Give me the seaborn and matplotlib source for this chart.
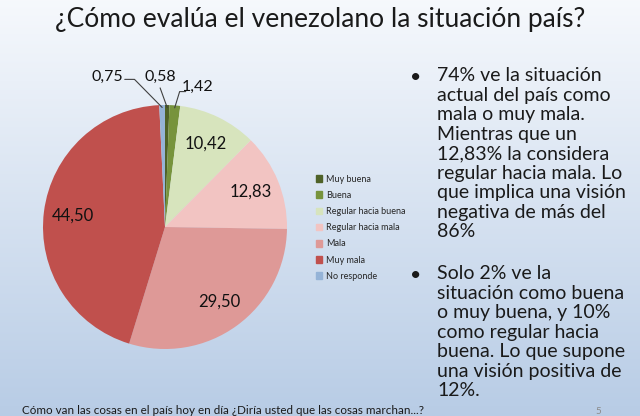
import numpy as np
import matplotlib
matplotlib.use("Agg")
import matplotlib.pyplot as plt
import seaborn as sns

categories = ["Muy buena", "Buena", "Regular hacia buena", "Regular hacia mala",
              "Mala", "Muy mala", "No responde"]
values = [0.58, 1.42, 10.42, 12.83, 29.50, 44.50, 0.75]
value_labels = ["0,58", "1,42", "10,42", "12,83", "29,50", "44,50", "0,75"]
colors_hex = ["#4f6228", "#77933c", "#d7e4bd", "#f2c4c2", "#de9997", "#c0504d", "#95b3d7"]

title = "¿Cómo evalúa el venezolano la situación país?"
bullet1 = ("74% ve la situación\nactual del país como\nmala o muy mala.\nMientras que un\n"
           "12,83% la considera\nregular hacia mala. Lo\nque implica una visión\n"
           "negativa de más del\n86%")
bullet2 = ("Solo 2% ve la\nsituación como buena\no muy buena, y 10%\ncomo regular hacia\n"
           "buena. Lo que supone\nuna visión positiva de\n12%.")
footer = "Cómo van las cosas en el país hoy en día ¿Diría usted que las cosas marchan...?"
page = "5"

sns.set_style("white")
plt.rcParams['font.family'] = ['Lato', 'DejaVu Sans']
palette = sns.color_palette(colors_hex)

W, H = 640, 416
fig = plt.figure(figsize=(6.4, 4.16), dpi=100)

# background gradient
bg = fig.add_axes([0, 0, 1, 1], zorder=-5)
top = np.array([0.965, 0.975, 0.99])
bot = np.array([0.72, 0.80, 0.90])
t = np.linspace(0, 1, 256)[:, None]
grad = top[None, :] * (1 - t) + bot[None, :] * t
bg.imshow(grad[:, None, :], aspect='auto', extent=[0, 1, 0, 1])
bg.axis('off')

# pie
cx, cy, r = 165, 227, 122
ax = fig.add_axes([(cx - r) / W, (H - cy - r) / H, 2 * r / W, 2 * r / H])
wedges, _ = ax.pie(values, colors=palette, startangle=90, counterclock=False,
                   radius=1, wedgeprops=dict(linewidth=0))
ax.set_xlim(-1, 1)
ax.set_ylim(-1, 1)
ax.set_aspect('equal')
ax.axis('off')

inside_dist = 0.76
outside_text = {0: (-0.04, 1.23), 1: (0.27, 1.15), 6: (-0.47, 1.23)}
for i, w in enumerate(wedges):
    mid = np.deg2rad((w.theta1 + w.theta2) / 2)
    if i in outside_text:
        tx, ty = outside_text[i]
        ex, ey = 0.98 * np.cos(mid), 0.98 * np.sin(mid)
        if i == 0:
            pts = [(tx, ty - 0.09), (ex, ey)]
        elif i == 1:
            pts = [(tx - 0.1, ty - 0.04), (tx - 0.15, ty - 0.04), (ex, ey)]
        else:
            pts = [(tx + 0.14, ty - 0.02), (tx + 0.22, ty - 0.02), (ex, ey)]
        xs, ys = zip(*pts)
        ax.plot(xs, ys, color="#404040", lw=0.8, clip_on=False)
        ax.text(tx, ty, value_labels[i], ha='center', va='center', fontsize=11.5,
                color="#111111", clip_on=False)
    else:
        ax.text(inside_dist * np.cos(mid), inside_dist * np.sin(mid), value_labels[i],
                ha='center', va='center', fontsize=12, color="#111111")

# legend
handles = [matplotlib.patches.Patch(color=c) for c in palette]
leg = fig.legend(handles, categories, loc='upper left',
                 bbox_to_anchor=(312 / W, 1 - 171 / H), frameon=False,
                 fontsize=6.5, handlelength=0.75, handleheight=0.75,
                 handletextpad=0.4, labelspacing=0.8, borderaxespad=0)

# title
fig.text(0.5, 1 - 20 / H, title, ha='center', va='center', fontsize=19, color="#1a1a1a")

# bullets
fig.text(410 / W, 1 - 77 / H, "•", ha='left', va='center', fontsize=14, color="#1a1a1a")
fig.text(437 / W, 1 - 67 / H, bullet1, ha='left', va='top', fontsize=14,
         color="#1a1a1a", linespacing=1.18)
fig.text(410 / W, 1 - 275 / H, "•", ha='left', va='center', fontsize=14, color="#1a1a1a")
fig.text(437 / W, 1 - 265 / H, bullet2, ha='left', va='top', fontsize=14,
         color="#1a1a1a", linespacing=1.18)

# footer
fig.text(22 / W, 1 - 410 / H, footer, ha='left', va='center', fontsize=8.4, color="#1a1a1a")
fig.text(598 / W, 1 - 411 / H, page, ha='center', va='center', fontsize=7, color="#8a8a8a")

fig.savefig("out.png", dpi=100)
